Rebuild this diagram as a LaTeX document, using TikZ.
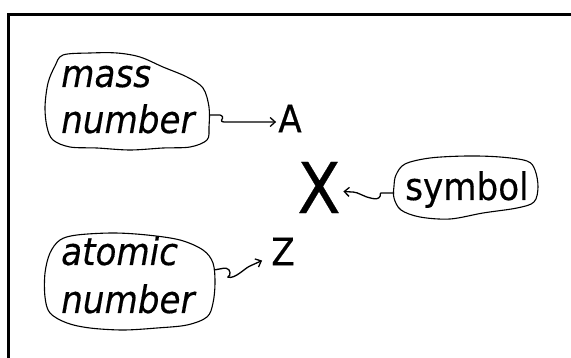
\documentclass[tikz,border=0pt]{standalone}
\usepackage{fontspec}
\setmainfont[FakeBold=0.4]{DejaVu Sans Condensed}
\usetikzlibrary{arrows.meta}
\begin{document}
\begin{tikzpicture}[x=1pt,y=-1pt,
  lbl/.style={inner sep=0pt,font=\fontsize{38}{44}\selectfont\itshape},
  sym/.style={inner sep=0pt,font=\fontsize{38}{44}\selectfont},
  letter/.style={inner sep=2pt,font=\fontsize{38}{44}\selectfont},
  bigletter/.style={inner sep=2.5pt,font=\fontsize{70}{80}\selectfont},
  blob/.style={draw=black,line width=1.1pt},
  conn/.style={draw,line width=1.3pt,-{Straight Barb[length=5pt,width=9pt]},rounded corners=1pt},
  frameline/.style={line width=2.6pt}]
\useasboundingbox (0,0) rectangle (571,358);
% frame (top and left edges)
\draw[frameline] (8.5,358) -- (8.5,14.5) -- (571,14.5);

% texts
\node[lbl,anchor=base west] (mass1) at (61,87) {mass};
\node[lbl,anchor=base west] (mass2) at (61,133) {number};
\node[lbl,anchor=base west] (atom1) at (61,265) {atomic};
\node[lbl,anchor=base west] (atom2) at (61,313) {number};
\node[sym,anchor=base west] (symb) at (405,200) {symbol};
\node[letter] (A) at (290,118.5) {A};
\node[letter] (Z) at (283,251.5) {Z};
\node[bigletter] (X) at (319,187.5) {X};

% blobs
\draw[blob] plot[smooth cycle,tension=0.55] coordinates {(63,55) (90,53) (117,53) (140,57) (163,67) (187,77) (203,88) (209,107) (209,127) (207,140) (190,147) (163,148) (130,150) (97,148) (70,147) (53,140) (47,127) (45,107) (48,83) (55,66)};
\draw[blob] plot[smooth cycle,tension=0.55] coordinates {(60,240) (77,235) (113,233) (147,235) (180,240) (203,250) (213,263) (215,283) (213,303) (207,317) (187,325) (157,328) (123,330) (90,328) (67,323) (50,313) (45,297) (45,273) (50,253)};
\draw[blob] plot[smooth cycle,tension=0.55] coordinates {(396,175) (405,164) (430,158) (467,156) (500,157) (527,161) (535,170) (538,187) (534,202) (517,208) (483,213) (450,219) (420,217) (401,210) (394,198) (394,186)};

% connector start points on blob edges
\coordinate (massE) at (209,115);
\coordinate (atomE) at (214,270);
\coordinate (symW) at (394,193);

% connectors
\draw[conn] (massE) -- (221,115) -- (223,117.5) -- (221,121) -- (223,122) -- ([yshift=-3.5pt]A.west);
\draw[conn] (symW) -- (380,193) .. controls (381,197) and (378,199.5) .. (373,198.5)
  .. controls (365,197.5) and (358,192) .. (352,192) -- ([yshift=-4pt]X.east);
\draw[conn] (atomE) -- (225,268) .. controls (231,269) and (231,276) .. (227,277)
  .. controls (235,279) and (244,269) .. (250,266) -- ([xshift=-7pt,yshift=7pt]Z.south west);
\end{tikzpicture}
\end{document}
